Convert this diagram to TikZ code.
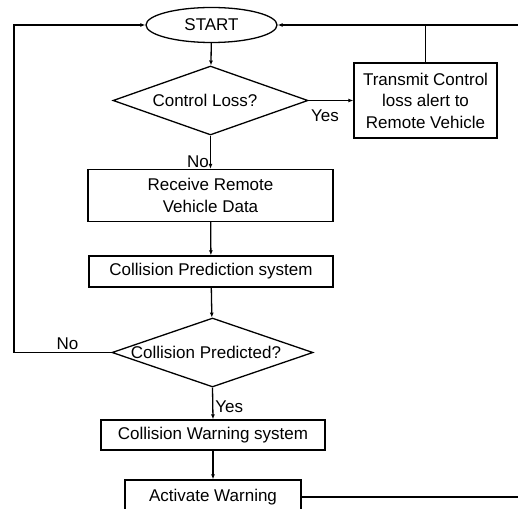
\documentclass[tikz,border=0pt]{standalone}
\usepackage{fontspec}
\setmainfont{Liberation Sans}
\usetikzlibrary{shapes.geometric,arrows.meta}
\begin{document}
\begin{tikzpicture}[x=1pt,y=-1pt,
  line width=1.3pt,
  every node/.style={font=\fontsize{17}{21.5}\selectfont, inner sep=0pt},
  box/.style={draw, rectangle, align=center},
  decision/.style={draw, diamond},
  terminal/.style={draw, ellipse},
  flow/.style={-{Latex[length=5pt,width=4pt]}},
  tag/.style={font=\fontsize{17}{20}\selectfont}]
  \useasboundingbox (0,0) rectangle (518,508);
  \clip (0,0) rectangle (518,508);

  % main column
  \node[terminal, minimum width=131pt, minimum height=35pt] (start) at (211.5,25) {START};
  \node[decision, minimum width=195pt, minimum height=69pt] (loss) at (210.5,100.5)
       {\makebox[0pt]{\hspace*{-11pt}Control Loss?}};
  \node[box, minimum width=143pt, minimum height=75pt] (transmit) at (425.5,100.5)
       {Transmit Control\\loss alert to\\Remote Vehicle};
  \node[box, minimum width=245pt, minimum height=52pt] (receive) at (210.5,195.5)
       {Receive Remote\\Vehicle Data};
  \node[box, minimum width=244pt, minimum height=31pt] (predsys) at (211,271.5)
       {Collision Prediction system};
  \node[decision, minimum width=201pt, minimum height=69pt] (pred) at (212.5,352.5)
       {\makebox[0pt]{\hspace*{-13pt}Collision Predicted?}};
  \node[box, minimum width=224pt, minimum height=30pt] (warnsys) at (213,435)
       {Collision Warning system};
  \node[box, minimum width=176pt, minimum height=34pt] (activate) at (213,497)
       {Activate Warning};

  % loose ends running off to the right
  \coordinate (topright) at (522,25);
  \coordinate (bottomright) at (522,497);
  \coordinate (leftrail) at (14,352.5);

  % connectors
  \draw[flow] (start) -- (loss);
  \draw[flow] (loss.east) -- node[tag, below, yshift=-9pt, xshift=-6pt] {Yes} (transmit.west);
  \draw[flow] (topright) -- (start.east);
  \draw (transmit.north) -- (transmit.north |- start.east);
  \draw[flow] (loss.south) -- node[tag, pos=0.8, left, xshift=-1pt] {No} (receive.north);
  \draw[flow] (receive) -- (predsys);
  \draw[flow] (predsys) -- (pred);
  \draw[flow] (pred.south) -- node[tag, pos=0.6, right, xshift=2pt] {Yes} (warnsys.north);
  \draw[flow] (warnsys) -- (activate);
  \draw[flow] (pred.west) -- node[tag, above, pos=0.45, yshift=2pt] {No} (leftrail) |- (start.west);
  \draw (activate.east) -- (bottomright);
\end{tikzpicture}
\end{document}
